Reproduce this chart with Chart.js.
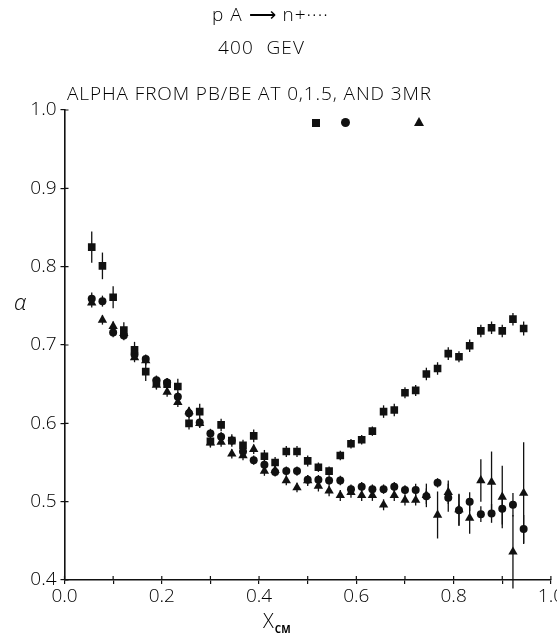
<!DOCTYPE html>
<html>
<head>
<meta charset="utf-8">
<script src="https://cdn.jsdelivr.net/npm/chart.js@4.4.1/dist/chart.umd.min.js"></script>
<style>
  html, body { margin: 0; padding: 0; background: #fff; overflow: hidden; }
  #wrap { position: relative; width: 565px; height: 641px; }
  .txt { position: absolute; color: #000; font-family: "Open Sans", "Liberation Sans", sans-serif; font-weight: 300; white-space: pre; line-height: 1; }
  .mk { position: absolute; background: #111; }
</style>
</head>
<body>
<div id="wrap">
  <canvas id="alphaChart" width="565" height="641"></canvas>
  <div class="txt" style="left:212px;top:5px;font-size:19px;letter-spacing:1px;">p A ⟶ n+····</div>
  <div class="txt" style="left:218px;top:38px;font-size:19px;letter-spacing:1.2px;">400  GEV</div>
  <div class="txt" style="left:67px;top:84px;font-size:19px;letter-spacing:0.9px;">ALPHA FROM PB/BE AT 0,1.5, AND 3MR</div>
  <div class="mk" style="left:312px;top:119px;width:8px;height:8px;"></div>
  <div class="mk" style="left:341px;top:118px;width:9px;height:9px;border-radius:50%;"></div>
  <div style="position:absolute;left:414px;top:117px;width:0;height:0;border-left:5px solid transparent;border-right:5px solid transparent;border-bottom:9px solid #111;"></div>
  <div class="txt" style="left:14px;top:290px;font-size:22px;font-style:italic;">α</div>
  <div class="txt" style="left:263px;top:611px;font-size:20px;">X<span style="font-size:10px;font-weight:700;position:relative;top:5px;margin-left:1px;">CM</span></div>
</div>
<script>
const xcm = [0.056, 0.078, 0.100, 0.122, 0.144, 0.167, 0.189, 0.211, 0.233, 0.256,
             0.278, 0.300, 0.322, 0.344, 0.367, 0.389, 0.411, 0.433, 0.456, 0.478,
             0.500, 0.522, 0.544, 0.567, 0.589, 0.611, 0.633, 0.656, 0.678, 0.700,
             0.722, 0.744, 0.767, 0.789, 0.811, 0.833, 0.856, 0.878, 0.900, 0.922, 0.944];

// 0 mr (squares)
const alpha0 = [0.825, 0.801, 0.761, 0.719, 0.694, 0.666, 0.652, 0.650, 0.647, 0.600,
                0.615, 0.577, 0.598, 0.578, 0.572, 0.584, 0.558, 0.550, 0.564, 0.564,
                0.552, 0.544, 0.539, 0.559, 0.574, 0.579, 0.590, 0.615, 0.617, 0.639,
                0.642, 0.663, 0.670, 0.689, 0.685, 0.699, 0.718, 0.722, 0.718, 0.733, 0.721];
const err0 = [0.020, 0.017, 0.014, 0.010, 0.010, 0.012, 0.008, 0.008, 0.010, 0.008,
              0.010, 0.007, 0.008, 0.008, 0.007, 0.008, 0.008, 0.007, 0.007, 0.007,
              0.007, 0.006, 0.006, 0.006, 0.006, 0.006, 0.006, 0.008, 0.008, 0.007,
              0.007, 0.008, 0.008, 0.008, 0.007, 0.008, 0.008, 0.008, 0.008, 0.008, 0.009];

// 1.5 mr (circles)
const alpha15 = [0.759, 0.756, 0.716, 0.712, 0.688, 0.682, 0.655, 0.652, 0.634, 0.613,
                 0.601, 0.587, 0.583, 0.578, 0.564, 0.553, 0.547, 0.538, 0.539, 0.539,
                 0.528, 0.528, 0.527, 0.527, 0.516, 0.519, 0.516, 0.516, 0.519, 0.515,
                 0.515, 0.507, 0.524, 0.505, 0.489, 0.500, 0.484, 0.485, 0.491, 0.496, 0.465];
const err15 = [0.008, 0.007, 0.006, 0.006, 0.006, 0.006, 0.006, 0.006, 0.006, 0.006,
               0.006, 0.006, 0.006, 0.006, 0.006, 0.006, 0.006, 0.006, 0.006, 0.006,
               0.006, 0.006, 0.006, 0.006, 0.006, 0.006, 0.006, 0.006, 0.006, 0.006,
               0.008, 0.010, 0.006, 0.018, 0.020, 0.012, 0.010, 0.012, 0.020, 0.015, 0.018];

// 3 mr (triangles)
const alpha3 = [0.754, 0.732, 0.724, 0.715, 0.684, 0.680, 0.649, 0.640, 0.627, 0.615,
                0.600, 0.575, 0.576, 0.561, 0.559, 0.567, 0.539, 0.540, 0.527, 0.518,
                0.527, 0.520, 0.514, 0.508, 0.512, 0.508, 0.508, 0.496, 0.508, 0.502,
                0.502, 0.508, 0.483, 0.512, 0.490, 0.479, 0.527, 0.525, 0.506, 0.436, 0.511];
const err3 = [0.006, 0.006, 0.006, 0.006, 0.006, 0.006, 0.006, 0.006, 0.006, 0.006,
              0.006, 0.006, 0.006, 0.006, 0.006, 0.006, 0.006, 0.006, 0.006, 0.006,
              0.007, 0.007, 0.007, 0.007, 0.007, 0.007, 0.007, 0.007, 0.007, 0.007,
              0.007, 0.015, 0.030, 0.015, 0.020, 0.020, 0.027, 0.039, 0.040, 0.047, 0.065];

const xTicks = [0, 0.2, 0.4, 0.6, 0.8, 1.0];
const yTicks = [0.4, 0.5, 0.6, 0.7, 0.8, 0.9, 1.0];

const ink = "#111";
const toPoints = (vals) => xcm.map((x, i) => ({ x: x, y: vals[i] }));

// vertical error bars, drawn under the markers
const errorBars = {
    id: "errorBars",
    beforeDatasetsDraw(chart) {
        const { ctx, scales: { x, y } } = chart;
        ctx.save();
        ctx.strokeStyle = ink;
        ctx.lineWidth = 1.3;
        chart.data.datasets.forEach((ds) => {
            ds.errors.forEach((e, i) => {
                const px = x.getPixelForValue(ds.data[i].x);
                ctx.beginPath();
                ctx.moveTo(px, y.getPixelForValue(ds.data[i].y - e));
                ctx.lineTo(px, y.getPixelForValue(ds.data[i].y + e));
                ctx.stroke();
            });
        });
        ctx.restore();
    }
};

// tick marks cross the axes, so add the inner half
const innerTicks = {
    id: "innerTicks",
    afterDraw(chart) {
        const { ctx, chartArea, scales: { x, y } } = chart;
        ctx.save();
        ctx.strokeStyle = ink;
        ctx.lineWidth = 1.2;
        ctx.beginPath();
        x.ticks.forEach((t) => {
            const px = x.getPixelForValue(t.value);
            ctx.moveTo(px, chartArea.bottom);
            ctx.lineTo(px, chartArea.bottom - 4);
        });
        y.ticks.forEach((t) => {
            const py = y.getPixelForValue(t.value);
            ctx.moveTo(chartArea.left, py);
            ctx.lineTo(chartArea.left + 4, py);
        });
        ctx.stroke();
        ctx.restore();
    }
};

const tickFont = { family: "'Open Sans', 'Liberation Sans', sans-serif", size: 19, weight: 300 };

new Chart(document.getElementById("alphaChart").getContext("2d"), {
    type: "scatter",
    data: {
        datasets: [
            { label: "0 MR", data: toPoints(alpha0), errors: err0, pointStyle: "rect", pointRadius: 5.4,
              backgroundColor: ink, borderColor: ink, borderWidth: 0 },
            { label: "1.5 MR", data: toPoints(alpha15), errors: err15, pointStyle: "circle", pointRadius: 4,
              backgroundColor: ink, borderColor: ink, borderWidth: 0 },
            { label: "3 MR", data: toPoints(alpha3), errors: err3, pointStyle: "triangle", pointRadius: 5.4,
              backgroundColor: ink, borderColor: ink, borderWidth: 0 },
        ],
    },
    options: {
        responsive: false,
        animation: false,
        layout: { padding: { top: 110, left: 30, right: 13.5, bottom: 31 } },
        plugins: { legend: { display: false }, tooltip: { enabled: false } },
        scales: {
            x: {
                type: "linear",
                min: 0,
                max: 1,
                afterFit: (s) => { s.height = 30; },
                border: { display: true, color: ink, width: 1.6 },
                grid: { drawOnChartArea: false, drawTicks: true, tickLength: 4, color: ink, lineWidth: 1.2 },
                ticks: {
                    stepSize: 0.1,
                    autoSkip: false,
                    maxRotation: 0,
                    padding: 1,
                    color: "#000",
                    font: tickFont,
                    callback: (v) => {
                        const hit = xTicks.find((t) => Math.abs(t - v) < 1e-6);
                        return hit === undefined ? "" : hit.toFixed(1);
                    },
                },
            },
            y: {
                min: 0.4,
                max: 1.0,
                afterFit: (s) => { s.width = 34.5; },
                border: { display: true, color: ink, width: 1.6 },
                grid: { drawOnChartArea: false, drawTicks: true, tickLength: 4, color: ink, lineWidth: 1.2 },
                ticks: {
                    stepSize: 0.1,
                    autoSkip: false,
                    padding: 4,
                    color: "#000",
                    font: tickFont,
                    callback: (v) => {
                        const hit = yTicks.find((t) => Math.abs(t - v) < 1e-6);
                        return hit === undefined ? "" : hit.toFixed(1);
                    },
                },
            },
        },
    },
    plugins: [errorBars, innerTicks],
});
</script>
</body>
</html>
